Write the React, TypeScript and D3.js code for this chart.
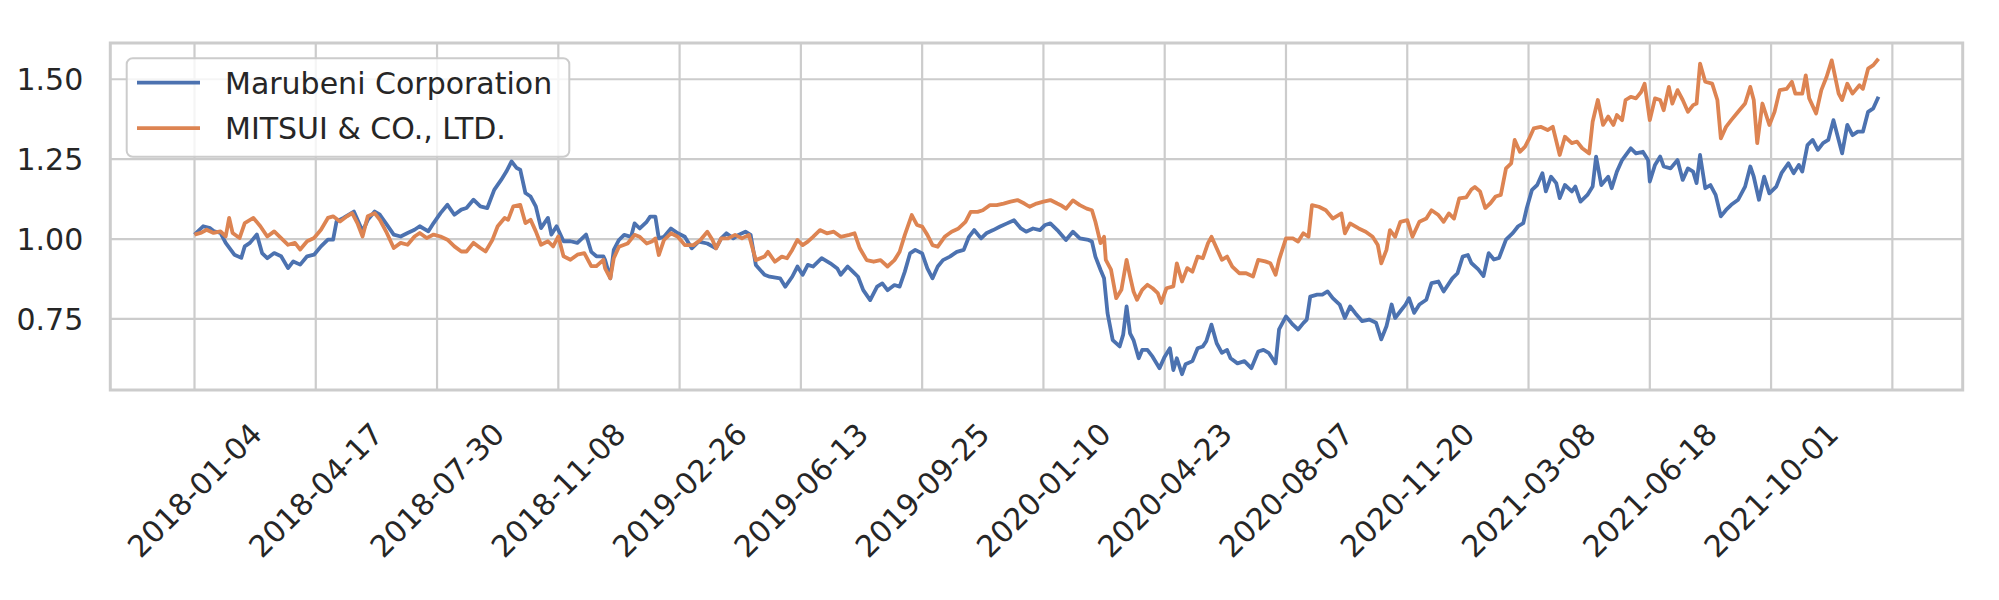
import { useRef, useEffect } from "react";
import * as d3 from "d3";

// trading-day index (0 = 2018-01-04) and normalised close
const marubeni: [number, number][] = [
  [0, 1.014], [5, 1.04], [9, 1.034], [11, 1.025], [15, 1.019], [18, 0.988], [23, 0.951], [27, 0.941],
  [29, 0.977], [32, 0.988], [36, 1.014], [39, 0.956], [42, 0.94], [46, 0.956], [50, 0.946], [54, 0.909],
  [57, 0.93], [61, 0.92], [65, 0.946], [69, 0.951], [73, 0.977], [77, 0.998], [80, 0.998], [82, 1.055],
  [86, 1.066], [92, 1.086], [97, 1.024], [100, 1.06], [104, 1.086], [107, 1.076], [111, 1.045], [115, 1.014],
  [119, 1.008], [123, 1.019], [127, 1.029], [130, 1.04], [135, 1.024], [138, 1.05], [142, 1.081], [146, 1.107],
  [150, 1.076], [154, 1.092], [157, 1.097], [161, 1.123], [165, 1.102], [169, 1.097], [173, 1.154], [177, 1.185],
  [180, 1.211], [183, 1.243], [186, 1.222], [188, 1.217], [191, 1.144], [194, 1.133], [197, 1.102], [200, 1.034],
  [204, 1.066], [206, 1.014], [209, 1.04], [213, 0.993], [217, 0.993], [221, 0.988], [226, 1.014], [229, 0.96],
  [232, 0.946], [236, 0.946], [237, 0.934], [240, 0.877], [242, 0.966], [245, 0.997], [248, 1.013], [252, 1.007],
  [254, 1.049], [257, 1.033], [261, 1.054], [263, 1.07], [266, 1.07], [268, 1.002], [271, 1.007], [275, 1.033],
  [279, 1.018], [283, 1.007], [287, 0.971], [291, 0.992], [296, 0.986], [301, 0.971], [304, 1.002], [307, 1.018],
  [311, 1.002], [314, 1.013], [318, 1.023], [321, 1.013], [324, 0.919], [329, 0.888], [332, 0.882], [338, 0.877],
  [341, 0.851], [345, 0.882], [348, 0.914], [351, 0.888], [354, 0.919], [357, 0.914], [362, 0.94], [367, 0.924],
  [371, 0.908], [373, 0.888], [377, 0.914], [380, 0.898], [383, 0.882], [386, 0.84], [390, 0.809], [394, 0.851],
  [397, 0.861], [400, 0.84], [404, 0.856], [407, 0.851], [410, 0.898], [413, 0.955], [416, 0.966], [420, 0.955],
  [423, 0.908], [426, 0.877], [429, 0.914], [432, 0.934], [436, 0.945], [440, 0.96], [444, 0.966], [447, 1.007],
  [450, 1.028], [454, 1.002], [457, 1.018], [461, 1.028], [465, 1.039], [469, 1.049], [473, 1.059], [477, 1.033],
  [480, 1.023], [484, 1.033], [488, 1.028], [491, 1.044], [494, 1.049], [498, 1.028], [503, 0.997], [507, 1.023],
  [511, 1.002], [516, 0.997], [518, 0.992], [520, 0.945], [523, 0.903], [525, 0.877], [527, 0.768], [530, 0.684],
  [534, 0.664], [536, 0.7], [538, 0.789], [540, 0.705], [542, 0.684], [545, 0.627], [547, 0.653], [550, 0.653],
  [553, 0.632], [557, 0.596], [560, 0.632], [563, 0.658], [565, 0.59], [567, 0.627], [570, 0.577], [572, 0.608],
  [576, 0.618], [579, 0.658], [582, 0.664], [584, 0.68], [587, 0.732], [590, 0.674], [593, 0.644], [596, 0.653],
  [598, 0.627], [602, 0.611], [606, 0.618], [610, 0.596], [614, 0.648], [617, 0.653], [620, 0.644], [624, 0.611],
  [626, 0.717], [630, 0.758], [634, 0.732], [637, 0.717], [640, 0.737], [642, 0.748], [644, 0.82], [648, 0.826],
  [651, 0.826], [654, 0.836], [657, 0.815], [661, 0.795], [664, 0.753], [667, 0.789], [670, 0.768], [674, 0.743],
  [678, 0.748], [682, 0.738], [685, 0.686], [688, 0.727], [691, 0.795], [693, 0.753], [696, 0.774], [699, 0.795],
  [701, 0.815], [704, 0.769], [707, 0.795], [711, 0.81], [714, 0.862], [718, 0.867], [721, 0.836], [726, 0.877],
  [729, 0.893], [732, 0.945], [735, 0.95], [737, 0.925], [741, 0.905], [744, 0.884], [747, 0.956], [750, 0.936],
  [753, 0.941], [757, 0.998], [761, 1.019], [764, 1.04], [767, 1.05], [769, 1.097], [772, 1.154], [775, 1.169],
  [778, 1.206], [780, 1.149], [783, 1.195], [786, 1.175], [788, 1.128], [791, 1.169], [795, 1.149], [797, 1.164],
  [800, 1.117], [804, 1.138], [807, 1.164], [809, 1.258], [812, 1.169], [816, 1.195], [818, 1.159], [821, 1.211],
  [824, 1.247], [829, 1.284], [832, 1.268], [836, 1.273], [839, 1.247], [840, 1.18], [843, 1.232], [846, 1.258],
  [848, 1.227], [852, 1.221], [856, 1.247], [859, 1.185], [862, 1.221], [865, 1.211], [867, 1.175], [869, 1.263],
  [872, 1.159], [875, 1.169], [878, 1.138], [881, 1.071], [884, 1.091], [887, 1.107], [891, 1.123], [895, 1.164],
  [898, 1.227], [900, 1.195], [903, 1.123], [906, 1.195], [909, 1.143], [913, 1.164], [916, 1.206], [920, 1.237],
  [923, 1.206], [926, 1.232], [928, 1.211], [931, 1.294], [934, 1.31], [937, 1.279], [940, 1.3], [943, 1.31],
  [946, 1.372], [949, 1.31], [951, 1.268], [954, 1.357], [957, 1.325], [960, 1.336], [963, 1.336], [966, 1.398],
  [969, 1.409], [972, 1.445],
];

const mitsui: [number, number][] = [
  [0, 1.014], [4, 1.02], [7, 1.029], [11, 1.019], [15, 1.024], [18, 1.008], [20, 1.066], [22, 1.019],
  [26, 1.003], [29, 1.05], [34, 1.066], [38, 1.04], [42, 1.008], [46, 1.024], [50, 1.003], [54, 0.982],
  [58, 0.988], [61, 0.967], [65, 0.993], [69, 1.003], [73, 1.029], [77, 1.066], [80, 1.071], [84, 1.055],
  [88, 1.071], [91, 1.081], [94, 1.05], [97, 1.008], [100, 1.071], [104, 1.081], [107, 1.06], [111, 1.019],
  [115, 0.972], [119, 0.988], [123, 0.982], [127, 1.008], [130, 1.019], [134, 1.003], [138, 1.014], [142, 1.008],
  [146, 0.998], [150, 0.977], [154, 0.961], [157, 0.961], [161, 0.988], [165, 0.972], [168, 0.961], [172, 0.998],
  [175, 1.04], [179, 1.066], [181, 1.06], [184, 1.102], [188, 1.107], [191, 1.05], [194, 1.06], [197, 1.024],
  [200, 0.982], [204, 0.993], [207, 0.977], [210, 1.008], [213, 0.946], [217, 0.935], [221, 0.951], [225, 0.956],
  [229, 0.915], [232, 0.915], [236, 0.935], [237, 0.908], [240, 0.877], [242, 0.94], [245, 0.976], [250, 0.986],
  [254, 1.013], [257, 1.007], [261, 0.986], [264, 0.992], [266, 1.002], [268, 0.95], [271, 0.997], [275, 1.018],
  [279, 1.007], [283, 0.981], [288, 0.981], [292, 0.997], [296, 1.023], [299, 0.997], [301, 0.971], [304, 1.002],
  [308, 1.002], [312, 1.013], [316, 1.002], [320, 1.013], [324, 0.934], [329, 0.945], [331, 0.96], [335, 0.929],
  [339, 0.945], [342, 0.94], [345, 0.966], [348, 0.997], [351, 0.981], [354, 0.992], [357, 1.007], [361, 1.028],
  [365, 1.018], [369, 1.023], [373, 1.007], [378, 1.013], [381, 1.018], [384, 0.971], [388, 0.934], [392, 0.929],
  [396, 0.934], [400, 0.914], [404, 0.934], [407, 0.96], [410, 1.013], [414, 1.075], [417, 1.044], [420, 1.039],
  [423, 1.013], [426, 0.981], [429, 0.976], [433, 1.007], [437, 1.023], [441, 1.033], [445, 1.054], [448, 1.085],
  [452, 1.085], [455, 1.09], [459, 1.106], [463, 1.106], [467, 1.111], [471, 1.117], [475, 1.122], [479, 1.111],
  [482, 1.101], [486, 1.111], [490, 1.117], [494, 1.122], [498, 1.111], [500, 1.106], [503, 1.095], [507, 1.121],
  [511, 1.106], [515, 1.095], [518, 1.09], [520, 1.054], [523, 0.987], [525, 1.007], [526, 0.935], [529, 0.904],
  [532, 0.815], [535, 0.841], [538, 0.935], [540, 0.883], [542, 0.836], [544, 0.81], [547, 0.841], [550, 0.857],
  [553, 0.846], [556, 0.831], [558, 0.8], [561, 0.846], [565, 0.852], [567, 0.924], [570, 0.867], [573, 0.909],
  [576, 0.898], [579, 0.945], [582, 0.94], [585, 0.987], [587, 1.007], [590, 0.971], [593, 0.935], [596, 0.945],
  [599, 0.914], [603, 0.893], [607, 0.893], [611, 0.883], [614, 0.935], [618, 0.93], [621, 0.924], [624, 0.888],
  [626, 0.935], [630, 1.002], [634, 1.002], [637, 0.992], [640, 1.018], [643, 1.007], [645, 1.106], [649, 1.101],
  [653, 1.09], [657, 1.064], [662, 1.08], [664, 1.018], [667, 1.049], [672, 1.033], [676, 1.023], [680, 1.007],
  [683, 0.981], [685, 0.924], [688, 0.966], [690, 1.028], [693, 1.007], [696, 1.054], [700, 1.059], [703, 1.007],
  [707, 1.054], [711, 1.064], [714, 1.09], [718, 1.075], [721, 1.054], [724, 1.08], [727, 1.064], [730, 1.127],
  [734, 1.13], [737, 1.155], [739, 1.163], [742, 1.149], [745, 1.097], [748, 1.112], [751, 1.133], [754, 1.138],
  [757, 1.221], [760, 1.237], [762, 1.31], [765, 1.273], [768, 1.289], [770, 1.31], [773, 1.346], [777, 1.351],
  [781, 1.341], [784, 1.351], [788, 1.263], [791, 1.32], [795, 1.3], [798, 1.305], [801, 1.284], [805, 1.268],
  [807, 1.367], [810, 1.435], [813, 1.357], [816, 1.383], [819, 1.357], [821, 1.388], [824, 1.372], [826, 1.435],
  [829, 1.445], [832, 1.44], [835, 1.46], [837, 1.486], [840, 1.372], [843, 1.44], [846, 1.435], [848, 1.403],
  [851, 1.476], [853, 1.424], [856, 1.466], [859, 1.435], [862, 1.398], [865, 1.419], [867, 1.424], [869, 1.549],
  [872, 1.492], [876, 1.486], [879, 1.435], [881, 1.315], [884, 1.351], [887, 1.372], [891, 1.398], [895, 1.424],
  [898, 1.476], [900, 1.435], [902, 1.3], [905, 1.424], [909, 1.357], [912, 1.398], [915, 1.466], [919, 1.47],
  [922, 1.492], [924, 1.455], [928, 1.455], [930, 1.512], [932, 1.44], [936, 1.393], [939, 1.466], [942, 1.507],
  [945, 1.559], [949, 1.455], [951, 1.435], [954, 1.486], [957, 1.455], [961, 1.481], [963, 1.47], [966, 1.533],
  [969, 1.544], [972, 1.564],
];

const seriesNames = ["Marubeni Corporation", "MITSUI & CO., LTD."];
const seriesColors = ["#4c72b0", "#dd8452"];

// a tick every 70 trading days; the one past the data has no label
const tickLabels = [
  "2018-01-04", "2018-04-17", "2018-07-30", "2018-11-08", "2019-02-26", "2019-06-13", "2019-09-25",
  "2020-01-10", "2020-04-23", "2020-08-07", "2020-11-20", "2021-03-08", "2021-06-18", "2021-10-01",
];
const tickStep = 70;
const yTicks = [0.75, 1.0, 1.25, 1.5];

const App = () => {
  const svgRef = useRef(null);

  useEffect(() => {
    const width = 1999;
    const height = 600;
    const plot = { left: 110.3, right: 1962.7, top: 43, bottom: 390 };
    const font = "'DejaVu Sans', sans-serif";
    const textColor = "#262626";
    const gridColor = "#cccccc";

    d3.select(svgRef.current).selectAll("*").remove();

    const svg = d3
      .select(svgRef.current)
      .attr("width", width)
      .attr("height", height)
      .attr("viewBox", `0 0 ${width} ${height}`);

    svg.append("rect").attr("width", width).attr("height", height).attr("fill", "#ffffff");

    const series = [marubeni, mitsui];
    const lastDay = d3.max(series, (s) => d3.max(s, (d) => d[0])) || 0;
    const xScale = d3
      .scaleLinear()
      .domain([-0.05 * lastDay, 1.05 * lastDay])
      .range([plot.left, plot.right]);

    const yMin = d3.min(series, (s) => d3.min(s, (d) => d[1])) || 0;
    const yMax = d3.max(series, (s) => d3.max(s, (d) => d[1])) || 1;
    const pad = (yMax - yMin) * 0.05;
    const yScale = d3
      .scaleLinear()
      .domain([yMin - pad, yMax + pad])
      .range([plot.bottom, plot.top]);

    const xTicks = d3.range(0, xScale.domain()[1], tickStep);

    // grid
    const grid = svg.append("g").attr("stroke", gridColor).attr("stroke-width", 2.2);
    grid
      .selectAll("line.v")
      .data(xTicks)
      .join("line")
      .attr("x1", (d) => xScale(d))
      .attr("x2", (d) => xScale(d))
      .attr("y1", plot.top)
      .attr("y2", plot.bottom);
    grid
      .selectAll("line.h")
      .data(yTicks)
      .join("line")
      .attr("class", "h")
      .attr("x1", plot.left)
      .attr("x2", plot.right)
      .attr("y1", (d) => yScale(d))
      .attr("y2", (d) => yScale(d));

    // lines
    const line = d3
      .line<[number, number]>()
      .x((d) => xScale(d[0]))
      .y((d) => yScale(d[1]));

    svg
      .append("g")
      .selectAll("path")
      .data(series)
      .join("path")
      .attr("d", (d) => line(d))
      .attr("fill", "none")
      .attr("stroke", (d, i) => seriesColors[i])
      .attr("stroke-width", 3.8)
      .attr("stroke-linejoin", "round");

    // frame
    svg
      .append("rect")
      .attr("x", plot.left)
      .attr("y", plot.top)
      .attr("width", plot.right - plot.left)
      .attr("height", plot.bottom - plot.top)
      .attr("fill", "none")
      .attr("stroke", gridColor)
      .attr("stroke-width", 3);

    // y tick labels
    svg
      .append("g")
      .attr("font-family", font)
      .attr("font-size", 30)
      .attr("fill", textColor)
      .attr("text-anchor", "end")
      .selectAll("text")
      .data(yTicks)
      .join("text")
      .attr("x", plot.left - 27)
      .attr("y", (d) => yScale(d))
      .attr("dy", "0.36em")
      .text((d) => d3.format(".2f")(d));

    // x tick labels, rotated
    svg
      .append("g")
      .attr("font-family", font)
      .attr("font-size", 30)
      .attr("fill", textColor)
      .attr("text-anchor", "middle")
      .selectAll("text")
      .data(xTicks)
      .join("text")
      .attr("transform", (d) => `translate(${xScale(d)},${plot.bottom + 100}) rotate(-45)`)
      .attr("dy", "0.36em")
      .text((d, i) => tickLabels[i] ?? "");

    // legend
    const legend = svg.append("g").attr("font-family", font).attr("font-size", 30);
    legend
      .append("rect")
      .attr("x", 126.7)
      .attr("y", 58.3)
      .attr("width", 442.6)
      .attr("height", 98.4)
      .attr("rx", 6)
      .attr("fill", "#ffffff")
      .attr("fill-opacity", 0.8)
      .attr("stroke", gridColor)
      .attr("stroke-width", 2);

    const items = legend
      .selectAll("g")
      .data(seriesNames)
      .join("g")
      .attr("transform", (d, i) => `translate(137, ${82.7 + i * 45.5})`);

    items
      .append("line")
      .attr("x1", 0)
      .attr("x2", 63)
      .attr("stroke", (d, i) => seriesColors[i])
      .attr("stroke-width", 3.8);

    items
      .append("text")
      .attr("x", 88)
      .attr("dy", "0.36em")
      .attr("fill", textColor)
      .text((d) => d);
  }, []);

  return (
    <div style={{ position: "absolute", left: 0, top: 0, background: "#ffffff" }}>
      <svg ref={svgRef} style={{ display: "block" }}></svg>
    </div>
  );
};

export default App;
